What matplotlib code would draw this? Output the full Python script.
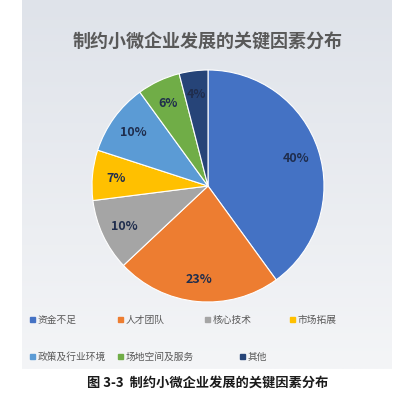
import matplotlib.pyplot as plt
import numpy as np
from matplotlib.colors import LinearSegmentedColormap

plt.rcParams['font.family'] = ['Noto Sans CJK SC', 'DejaVu Sans']

labels = ['资金不足', '人才团队', '核心技术', '市场拓展', '政策及行业环境', '场地空间及服务', '其他']
values = [40, 23, 10, 7, 10, 6, 4]
colors = ['#4472C4', '#ED7D31', '#A5A5A5', '#FFC000', '#5B9BD5', '#70AD47', '#264478']

fig = plt.figure(figsize=(4.16, 4.02), dpi=100)

# gradient background panel
bg = fig.add_axes([22/416, 32/402, 370/416, 370/402])
grad = np.linspace(0, 1, 256).reshape(-1, 1)
cmap = LinearSegmentedColormap.from_list('bg', ['#dfe3ea', '#f4f5f7'])
bg.imshow(grad, aspect='auto', cmap=cmap, extent=[0, 1, 0, 1])
bg.axis('off')

ax = fig.add_axes([(208-116)/416, (402-187-116)/402, 232/416, 232/402])
wedges, texts = ax.pie(values, colors=colors, startangle=90, counterclock=False,
                       wedgeprops=dict(edgecolor='white', linewidth=0.8))
for w, v in zip(wedges, values):
    ang = np.deg2rad((w.theta1 + w.theta2) / 2)
    r = 0.8
    ax.text(r*np.cos(ang), r*np.sin(ang), f'{v}%', ha='center', va='center',
            fontsize=9, fontweight='bold', color='#1f2d4d')
ax.set_xlim(-1, 1)
ax.set_ylim(-1, 1)
ax.set_aspect('equal')

fig.text(208/416, 1-42/402, '制约小微企业发展的关键因素分布', ha='center', va='center',
         fontsize=13, fontweight='bold', color='#595959')

leg_pos = [(30, 320), (118, 320), (205, 320), (290, 320), (30, 357), (118, 357), (240, 357)]
for (x, y), lab, c in zip(leg_pos, labels, colors):
    fig.patches.append(plt.Rectangle((x/416, 1-(y+3)/402), 5/416, 5/402,
                                     transform=fig.transFigure, color=c))
    fig.text((x+8)/416, 1-y/402, lab, fontsize=7, va='center', color='#595959')

fig.text(208/416, 1-383/402, '图 3-3  制约小微企业发展的关键因素分布', ha='center', va='center',
         fontsize=9.5, fontweight='bold', color='#1a1a1a')

fig.savefig('out.png', dpi=100)
